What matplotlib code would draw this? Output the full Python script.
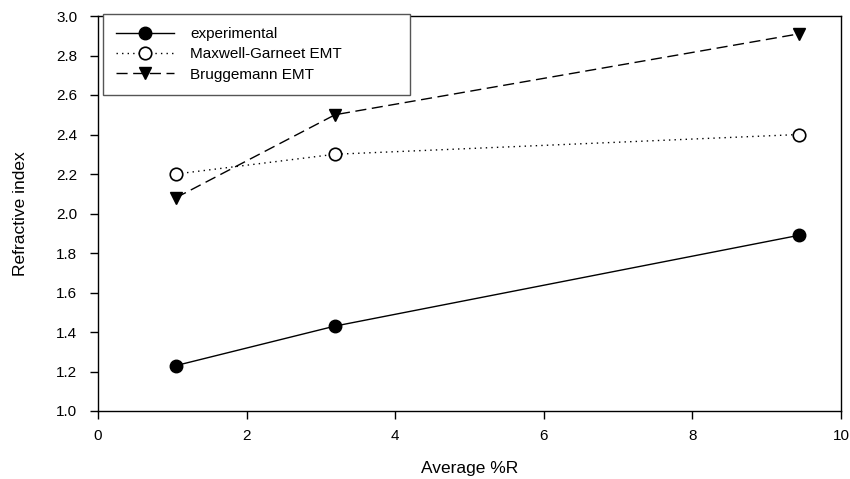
import matplotlib
matplotlib.use("Agg")
import matplotlib.pyplot as plt
from matplotlib.ticker import FormatStrFormatter

# average reflectance (%R) and refractive index
avg_R = [1.05, 3.19, 9.44]
n_experimental = [1.23, 1.43, 1.89]
n_maxwell_garnett = [2.20, 2.30, 2.40]
n_bruggemann = [2.08, 2.50, 2.91]

plt.rcParams["font.family"] = ["Liberation Sans", "DejaVu Sans"]

fig = plt.figure(figsize=(8.5, 4.79), dpi=100)
ax = fig.add_axes([98 / 850, 1 - 411 / 479, 743 / 850, 395 / 479])

ax.plot(avg_R, n_experimental, color="black", lw=1.0, ls="-",
        marker="o", ms=9, mfc="black", mec="black", label="experimental")
ax.plot(avg_R, n_maxwell_garnett, color="black", lw=1.0, ls=(0, (1, 3)),
        marker="o", ms=9, mfc="white", mec="black", mew=1.2,
        label="Maxwell-Garneet EMT")
ax.plot(avg_R, n_bruggemann, color="black", lw=1.0, ls=(0, (8, 4)),
        marker="v", ms=9, mfc="black", mec="black", label="Bruggemann EMT")

ax.set_xlim(0, 10)
ax.set_ylim(1.0, 3.0)
ax.set_xticks([0, 2, 4, 6, 8, 10])
ax.set_yticks([1.0, 1.2, 1.4, 1.6, 1.8, 2.0, 2.2, 2.4, 2.6, 2.8, 3.0])
ax.yaxis.set_major_formatter(FormatStrFormatter("%.1f"))
ax.tick_params(direction="out", length=6, width=1, labelsize=11,
               top=False, right=False)
ax.tick_params(axis="x", pad=7)
ax.tick_params(axis="y", pad=9)
for s in ax.spines.values():
    s.set_linewidth(1.0)

ax.set_xlabel("Average %R", fontsize=12.5, labelpad=13)
ax.set_ylabel("Refractive index", fontsize=12.5, labelpad=20)

leg = ax.legend(loc="upper left", bbox_to_anchor=(0.0067, 1.005, 0.413, 0.0),
                mode="expand", fontsize=11, handlelength=3.8,
                handletextpad=1.05, labelspacing=0.42, borderpad=0.85,
                fancybox=False, framealpha=1, edgecolor="#555555",
                borderaxespad=0)
leg.get_frame().set_linewidth(1.0)

fig.savefig("out.png", dpi=100)
